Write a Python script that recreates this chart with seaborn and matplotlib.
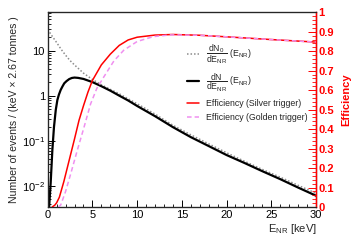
import numpy as np
import matplotlib
matplotlib.use("Agg")
import matplotlib.pyplot as plt
import seaborn as sns
from matplotlib.lines import Line2D
from matplotlib.ticker import MultipleLocator, LogLocator, FuncFormatter, NullFormatter

# Recoil spectrum without efficiency (dN0/dE)
gray_E = [0, 0.5, 1, 1.5, 2, 2.5, 3, 4, 5, 6, 7, 8, 9, 10, 12, 14, 16, 18, 20, 22, 24, 26, 28, 30]
gray_N = [29.5, 20.9, 15.1, 10.7, 7.9, 6.0, 4.8, 3.16, 2.29, 1.74, 1.38, 1.1, 0.85, 0.66, 0.39,
          0.22, 0.135, 0.085, 0.054, 0.035, 0.023, 0.0155, 0.0102, 0.0068]

# Spectrum after efficiency (dN/dE)
black_E = [0.15, 0.33, 0.52, 0.7, 0.9, 1.08, 1.25, 1.45, 1.65, 1.85, 2.1, 2.4, 2.7, 3.0, 3.4, 4.0,
           5.0, 6.0, 7.0, 8.0, 9.0, 10.0, 12.0, 14.0, 16.0, 18.0, 20.0, 22.0, 24.0, 26.0, 28.0, 30.0]
black_N = [0.0032, 0.0115, 0.062, 0.2, 0.48, 0.8, 1.05, 1.34, 1.6, 1.88, 2.1, 2.33, 2.47, 2.52, 2.48,
           2.35, 2.0, 1.62, 1.29, 1.0, 0.78, 0.59, 0.35, 0.2, 0.12, 0.076, 0.048, 0.032, 0.021,
           0.014, 0.0091, 0.006]

# Efficiencies
silver_E = [0.5, 0.8, 1.0, 1.3, 1.8, 2.4, 3.0, 3.5, 4.0, 4.5, 5.0, 6.0, 7.0, 8.0, 9.0, 10.0,
            12.0, 14.0, 17.0, 20.0, 25.0, 30.0]
silver_eff = [0.0, 0.01, 0.022, 0.05, 0.13, 0.24, 0.35, 0.445, 0.52, 0.59, 0.65, 0.73, 0.785,
              0.83, 0.858, 0.872, 0.883, 0.886, 0.882, 0.874, 0.86, 0.847]
golden_E = [1.2, 1.45, 1.65, 2.0, 2.6, 3.3, 4.0, 4.8, 5.5, 6.3, 7.4, 8.5, 10.0, 11.8, 13.7,
            17.0, 20.0, 25.0, 30.0]
golden_eff = [0.0, 0.01, 0.035, 0.08, 0.175, 0.29, 0.40, 0.53, 0.61, 0.67, 0.75, 0.805, 0.85,
              0.875, 0.884, 0.882, 0.874, 0.86, 0.847]

sns.set_style("ticks")
plt.rcParams["font.family"] = ["Liberation Sans", "DejaVu Sans"]
plt.rcParams["mathtext.fontset"] = "custom"
plt.rcParams["mathtext.rm"] = "Liberation Sans"
plt.rcParams["mathtext.it"] = "Liberation Sans:italic"
plt.rcParams["mathtext.bf"] = "Liberation Sans:bold"

GRAY = "#8c8c8c"
VIOLET = "#f08ff0"
RED = "#ff0000"
fs = 8

fig = plt.figure(figsize=(3.55, 2.41), dpi=100)
ax = fig.add_axes([0.1344, 0.141, 0.7556, 0.808])

sns.lineplot(x=gray_E, y=gray_N, ax=ax, color=GRAY, lw=1.1, linestyle=(0, (1, 1.3)))
sns.lineplot(x=black_E, y=black_N, ax=ax, color="black", lw=1.6)
ax.set_yscale("log")
ax.set_xlim(0, 30)
ax.set_ylim(0.00336, 71)

ax.xaxis.set_major_locator(MultipleLocator(5))
ax.xaxis.set_minor_locator(MultipleLocator(1))
ax.yaxis.set_major_locator(LogLocator(base=10, numticks=10))
ax.yaxis.set_minor_locator(LogLocator(base=10, subs=np.arange(2, 10), numticks=20))
ax.yaxis.set_minor_formatter(NullFormatter())


def log_fmt(v, pos):
    if np.isclose(v, 1):
        return "1"
    if np.isclose(v, 10):
        return "10"
    return r"$10^{%d}$" % int(round(np.log10(v)))


ax.yaxis.set_major_formatter(FuncFormatter(log_fmt))
ax.tick_params(axis="both", which="both", direction="in", labelsize=fs, colors="black",
               right=False, top=False, pad=2)
ax.tick_params(axis="both", which="major", length=5, width=0.7)
ax.tick_params(axis="both", which="minor", length=2.5, width=0.6)
for s in ax.spines.values():
    s.set_linewidth(0.9)

ax.set_ylabel("Number of events / (keV × 2.67 tonnes )", fontsize=7.6)
ax.yaxis.set_label_coords(-0.107, 0.5)
ax.set_xlabel(r"E$_{\mathrm{NR}}$ [keV]", fontsize=fs, ha="right")
ax.xaxis.set_label_coords(1.005, -0.075)

ax2 = ax.twinx()
sns.lineplot(x=silver_E, y=silver_eff, ax=ax2, color=RED, lw=1.1)
sns.lineplot(x=golden_E, y=golden_eff, ax=ax2, color=VIOLET, lw=1.1, linestyle=(0, (3, 2)))
ax2.set_ylim(0, 1)
ax2.set_xlim(0, 30)
ax2.yaxis.set_major_locator(MultipleLocator(0.1))
ax2.yaxis.set_minor_locator(MultipleLocator(0.02))
ax2.yaxis.set_major_formatter(FuncFormatter(lambda v, p: "0" if v < 1e-6 else ("1" if v > 0.999 else f"{v:.1f}")))
ax2.tick_params(axis="y", which="both", direction="in", colors=RED, labelsize=fs, pad=1.5)
ax2.tick_params(axis="y", which="major", length=6, width=0.7)
ax2.tick_params(axis="y", which="minor", length=3, width=0.6)
for lab in ax2.get_yticklabels():
    lab.set_fontweight("bold")
ax2.spines["right"].set_color(RED)
ax2.spines["right"].set_linewidth(1.0)
ax2.set_ylabel("Efficiency", color=RED, fontsize=fs, fontweight="bold")
ax2.yaxis.set_label_coords(1.095, 0.55)

handles = [Line2D([], [], color=GRAY, lw=1.1, linestyle=(0, (1, 1.3))),
           Line2D([], [], color="black", lw=1.6),
           Line2D([], [], color=RED, lw=1.1),
           Line2D([], [], color=VIOLET, lw=1.1, linestyle=(0, (3, 2)))]
labels = [r"$\dfrac{\mathrm{dN_0}}{\mathrm{dE_{NR}}}$ (E$_{\mathrm{NR}}$)",
          r"$\dfrac{\mathrm{dN}}{\mathrm{dE_{NR}}}$ (E$_{\mathrm{NR}}$)",
          "Efficiency (Silver trigger)",
          "Efficiency (Golden trigger)"]
ax2.legend(handles, labels, loc="upper left", bbox_to_anchor=(0.52, 0.845), frameon=False,
           fontsize=6.3, handlelength=1.3, handletextpad=0.8, labelspacing=0.6,
           borderpad=0, borderaxespad=0)

plt.savefig("out.png", dpi=100)
plt.close()
